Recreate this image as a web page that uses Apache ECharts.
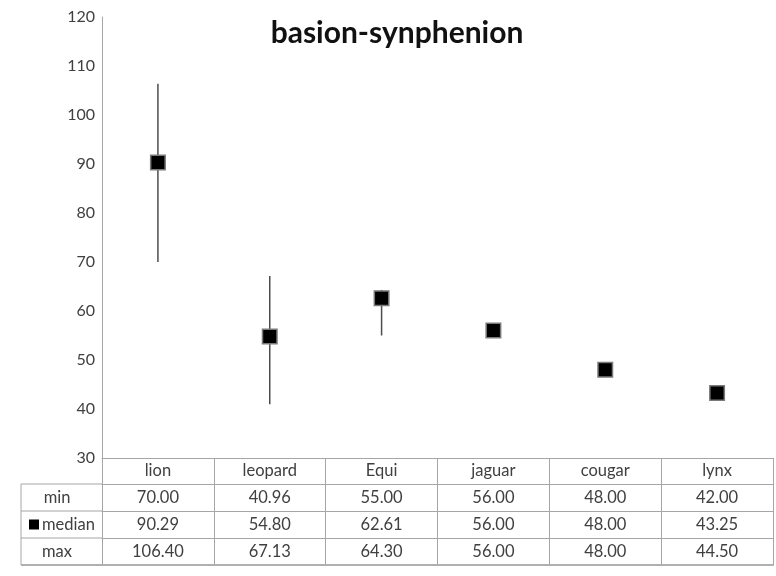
<!DOCTYPE html>
<html>
<head>
<meta charset="utf-8">
<title>basion-synphenion</title>
<script src="https://cdn.jsdelivr.net/npm/echarts@6/dist/echarts.min.js"></script>
<style>
  html, body { margin: 0; padding: 0; background: #fff; }
  #chart { width: 776px; height: 576px; }
</style>
</head>
<body>
<div id="chart"></div>
<script>
// Measurements per species
const categories = ['lion', 'leopard', 'Equi', 'jaguar', 'cougar', 'lynx'];
const minVals    = [70.00, 40.96, 55.00, 56.00, 48.00, 42.00];
const medianVals = [90.29, 54.80, 62.61, 56.00, 48.00, 43.25];
const maxVals    = [106.40, 67.13, 64.30, 56.00, 48.00, 44.50];
const rowNames   = ['min', 'median', 'max'];
const yMin = 30, yMax = 120, yStep = 10;

// Layout of the plot and the data table beneath it
const FONT = 'Lato, "Liberation Sans", sans-serif';
const TEXT = '#404040';
const RULE = '#a6a6a6';
const TABLE_FS = 16.5;
const GRID = { left: 102, right: 3, top: 17, bottom: 118 };
const AXIS_Y = 576 - GRID.bottom;      // y of the category axis line
const HEAD_H = 26;                     // height of the category-name row
const ROW_H = 27;                      // height of each value row
const TABLE_LEFT = 21;

const rowValues = [minVals, medianVals, maxVals];

// one category axis per table row: its line is the row's top rule,
// its ticks are the column separators, its labels are the cell values
const tableAxes = rowValues.map((vals, r) => ({
  type: 'category',
  gridIndex: 0,
  position: 'bottom',
  offset: HEAD_H + r * ROW_H,
  data: vals.map(v => v.toFixed(2)),
  boundaryGap: true,
  axisLine: { show: true, lineStyle: { color: RULE, width: 1 } },
  axisTick: { show: true, interval: 0, alignWithLabel: false, length: ROW_H, lineStyle: { color: RULE } },
  axisLabel: { interval: 0, margin: 5, fontSize: TABLE_FS, color: TEXT, fontFamily: FONT },
  splitLine: { show: false }
}));

// bottom rule of the table
const bottomAxis = {
  type: 'category',
  gridIndex: 0,
  position: 'bottom',
  offset: HEAD_H + rowValues.length * ROW_H,
  data: categories,
  axisLine: { show: true, lineStyle: { color: '#b0b0b0', width: 2 } },
  axisTick: { show: false },
  axisLabel: { show: false }
};

// row headers to the left of the plot
const headerGraphics = [];
const tableBottom = AXIS_Y + HEAD_H + rowValues.length * ROW_H;
headerGraphics.push({
  type: 'line',
  shape: { x1: TABLE_LEFT, y1: AXIS_Y + HEAD_H, x2: TABLE_LEFT, y2: tableBottom },
  style: { stroke: RULE, lineWidth: 1 }
});
for (let r = 0; r <= rowValues.length; r++) {
  const y = AXIS_Y + HEAD_H + r * ROW_H;
  const last = r === rowValues.length;
  headerGraphics.push({
    type: 'line',
    shape: { x1: TABLE_LEFT, y1: y, x2: GRID.left, y2: y },
    style: { stroke: last ? '#b0b0b0' : RULE, lineWidth: last ? 2 : 1 }
  });
}
rowNames.forEach((name, r) => {
  const cy = AXIS_Y + HEAD_H + r * ROW_H + ROW_H / 2;
  if (name === 'median') {
    headerGraphics.push({
      type: 'rect',
      shape: { x: 29, y: cy - 5, width: 10, height: 10 },
      style: { fill: '#000' }
    });
    headerGraphics.push({
      type: 'text',
      x: 42, y: cy,
      style: { text: name, fill: TEXT, font: TABLE_FS + 'px ' + FONT, textAlign: 'left', textVerticalAlign: 'middle' }
    });
  } else {
    headerGraphics.push({
      type: 'text',
      x: 57, y: cy,
      style: { text: name, fill: TEXT, font: TABLE_FS + 'px ' + FONT, textAlign: 'center', textVerticalAlign: 'middle' }
    });
  }
});

const chart = echarts.init(document.getElementById('chart'), null, { renderer: 'canvas' });

chart.setOption({
  animation: false,
  backgroundColor: '#fff',
  title: {
    text: 'basion-synphenion',
    left: 392,
    top: 13,
    textAlign: 'center',
    textStyle: { fontFamily: FONT, fontWeight: 'bold', fontSize: 30, color: '#111' }
  },
  grid: { left: GRID.left, right: GRID.right, top: GRID.top, bottom: GRID.bottom, containLabel: false },
  xAxis: [
    {
      type: 'category',
      gridIndex: 0,
      position: 'bottom',
      data: categories,
      boundaryGap: true,
      axisLine: { show: true, lineStyle: { color: RULE, width: 1 } },
      axisTick: { show: true, interval: 0, alignWithLabel: false, length: HEAD_H, lineStyle: { color: RULE } },
      axisLabel: { interval: 0, margin: 4, fontSize: TABLE_FS, color: TEXT, fontFamily: FONT },
      splitLine: { show: false }
    },
    ...tableAxes,
    bottomAxis
  ],
  yAxis: {
    type: 'value',
    min: yMin,
    max: yMax,
    interval: yStep,
    axisLine: { show: true, lineStyle: { color: RULE, width: 1 } },
    axisTick: { show: false },
    splitLine: { show: false },
    axisLabel: { margin: 7, fontSize: 16, color: TEXT, fontFamily: FONT }
  },
  series: [
    {
      name: 'range',
      type: 'custom',
      xAxisIndex: 0,
      yAxisIndex: 0,
      data: categories.map((c, i) => [i, minVals[i], maxVals[i]]),
      encode: { x: 0, y: [1, 2] },
      renderItem: function (params, api) {
        const lo = api.coord([api.value(0), api.value(1)]);
        const hi = api.coord([api.value(0), api.value(2)]);
        return {
          type: 'line',
          shape: { x1: lo[0], y1: lo[1], x2: hi[0], y2: hi[1] },
          style: { stroke: '#4d4d4d', lineWidth: 1.5 }
        };
      },
      z: 2
    },
    {
      name: 'median',
      type: 'scatter',
      xAxisIndex: 0,
      yAxisIndex: 0,
      data: medianVals,
      symbol: 'rect',
      symbolSize: 14.5,
      itemStyle: { color: '#000', borderColor: '#7a7a7a', borderWidth: 1.5, opacity: 1 },
      z: 3
    }
  ],
  graphic: headerGraphics
});
</script>
</body>
</html>
